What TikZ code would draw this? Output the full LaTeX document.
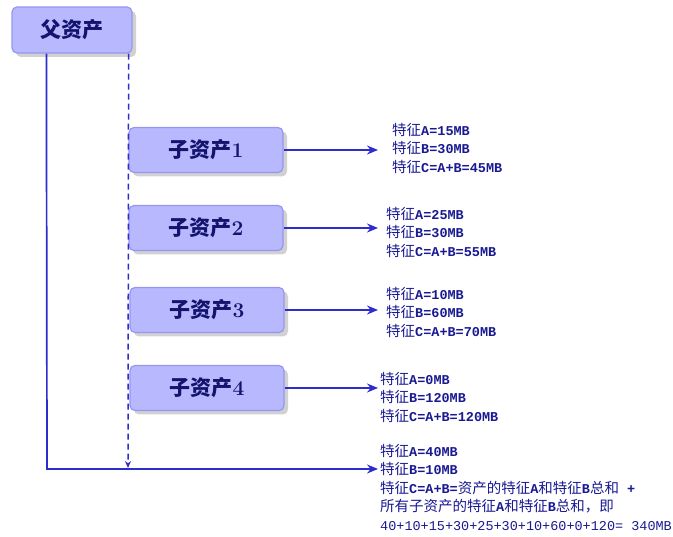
\documentclass[tikz,border=0pt]{standalone}
\usepackage{fontspec}
\usepackage{xcolor}
\usetikzlibrary{positioning,shadows,arrows.meta}
\newfontfamily\cjk{Noto Sans CJK SC}
\newfontfamily\cjkbf{Noto Sans CJK SC Bold}
\setmonofont{Liberation Mono}

\begin{document}
\begin{tikzpicture}[x=1pt, y=-1pt, every node/.style={inner sep=0pt}]
    % Define colors
    \definecolor{assetfill}{RGB}{184,184,255}
    \definecolor{assetdraw}{RGB}{150,150,240}
    \definecolor{assettext}{RGB}{20,20,110}
    \definecolor{linkcolor}{RGB}{45,45,205}
    \definecolor{infotext}{RGB}{25,25,145}

    \tikzset{
        asset/.style={draw=assetdraw, line width=1.2pt, fill=assetfill, rounded corners=5pt,
            text=assettext, font=\fontsize{21}{24}\selectfont\bfseries,
            drop shadow={shadow xshift=4pt, shadow yshift=-4pt, opacity=0.3, fill=black!60}},
        info/.style={anchor=west, align=left, text=infotext,
            font=\ttfamily\bfseries\fontsize{13.5}{18.5}\selectfont},
        link/.style={draw=linkcolor, line width=1.7pt, -{Stealth[length=11pt,width=9pt]}},
        sublink/.style={draw=linkcolor, line width=1.5pt, dash pattern=on 6pt off 4pt,
            -{Stealth[length=7pt,width=6pt]}}
    }

    \newcommand{\zh}[1]{{\cjk\mdseries\fontsize{14.5}{18.5}\selectfont #1}}

    \useasboundingbox (0,0) rectangle (673,537);

    % Parent asset
    \node[asset, minimum width=120pt, minimum height=46pt] (parent) at (72,30) {{\cjkbf 父资产}};

    % Child assets
    \node[asset, minimum width=154pt, minimum height=45pt] (child1) at (206,150) {{\cjkbf 子资产}1};
    \node[asset, minimum width=154pt, minimum height=45pt] (child2) at (206,228) {{\cjkbf 子资产}2};
    \node[asset, minimum width=154pt, minimum height=45pt] (child3) at (207,310) {{\cjkbf 子资产}3};
    \node[asset, minimum width=154pt, minimum height=45pt] (child4) at (207,388) {{\cjkbf 子资产}4};

    % Arrow tips and line corners
    \coordinate (tipx) at (378,0);
    \coordinate (solidtop) at ([xshift=35pt]parent.south west);
    \coordinate (dashtop) at ([xshift=-4pt]parent.south east);
    \coordinate (corner) at (47,469);
    \coordinate (dashend) at (128,468);
    \coordinate (total) at (378,469);

    % Feature lists
    \node[info] (info1) at (392,148) {\zh{特征}A=15MB\\\zh{特征}B=30MB\\\zh{特征}C=A+B=45MB};
    \node[info] (info2) at (386,232) {\zh{特征}A=25MB\\\zh{特征}B=30MB\\\zh{特征}C=A+B=55MB};
    \node[info] (info3) at (386,312) {\zh{特征}A=10MB\\\zh{特征}B=60MB\\\zh{特征}C=A+B=70MB};
    \node[info] (info4) at (380,397) {\zh{特征}A=0MB\\\zh{特征}B=120MB\\\zh{特征}C=A+B=120MB};
    \node[info] (info5) at (380,487) {\zh{特征}A=40MB\\\zh{特征}B=10MB\\
        \zh{特征}C=A+B=\zh{资产的特征}A\zh{和特征}B\zh{总和} +\\
        \zh{所有子资产的特征}A\zh{和特征}B\zh{总和，即}\\
        {\mdseries 40+10+15+30+25+30+10+60+0+120= 340MB}};

    % Connectors
    \draw[link] (child1.east) -- (child1.east -| tipx);
    \draw[link] (child2.east) -- (child2.east -| tipx);
    \draw[link] (child3.east) -- (child3.east -| tipx);
    \draw[link] (child4.east) -- (child4.east -| tipx);
    \draw[link] (solidtop) -- (corner) -- (total);
    \draw[sublink] (dashtop) -- (dashend);
\end{tikzpicture}
\end{document}
